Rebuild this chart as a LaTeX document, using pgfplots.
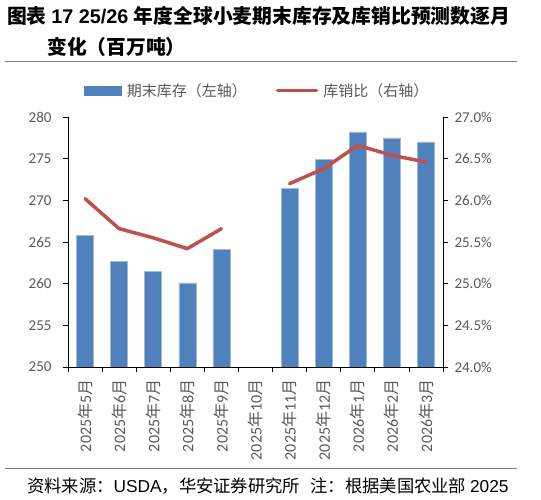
\documentclass[border=0pt]{standalone}
\usepackage{fontspec}
\setmainfont{Carlito}
\newfontfamily\cjk{Noto Sans CJK SC}
\newfontfamily\arial{Liberation Sans}
\usepackage{pgfplots}
\pgfplotsset{compat=1.18}

\definecolor{barblue}{HTML}{4F81BD}
\definecolor{linered}{HTML}{C0504D}
\definecolor{labelgray}{HTML}{595959}
\definecolor{rulegray}{HTML}{808080}

\newcommand{\ym}[2]{#1{\cjk 年}#2{\cjk 月}}

\begin{document}
\begin{tikzpicture}
\path[use as bounding box] (0pt,0pt) rectangle (541pt,500pt);

% title and rules
\node[anchor=west, inner sep=0pt] at (7pt,484pt)
  {\fontsize{19.8}{20}\selectfont{\cjk\bfseries 图表 }{\arial\bfseries 17 25/26 }{\cjk\bfseries 年度全球小麦期末库存及库销比预测数逐月}};
\node[anchor=west, inner sep=0pt] at (47pt,453pt)
  {\fontsize{19.8}{20}\selectfont\cjk\bfseries 变化（百万吨）};
\draw[rulegray, line width=1pt] (5pt,438pt) -- (517pt,438pt);
\draw[rulegray, line width=1pt] (5pt,31pt) -- (517pt,31pt);
\node[anchor=west, inner sep=0pt] at (27pt,14pt)
  {\fontsize{17.3}{17.3}\selectfont{\cjk 资料来源：}{\arial USDA}{\cjk ，华安证券研究所\hspace{0.6em}注：根据美国农业部 }{\arial 2025}};

\begin{axis}[
    at={(68pt,133pt)}, anchor=south west,
    width=375pt, height=250pt, scale only axis,
    xmin=-0.5, xmax=10.5,
    ymin=250, ymax=280,
    axis y line*=left, axis x line*=bottom,
    axis line style={black, line width=0.8pt, -},
    tick style={black, line width=0.8pt},
    tick align=outside,
    major tick length=5pt,
    ytick={250,255,...,280},
    xtick={-0.5,0.5,1.5,2.5,3.5,4.5,5.5,6.5,7.5,8.5,9.5,10.5},
    xticklabels={},
    extra x ticks={0,1,2,3,4,5,6,7,8,9,10},
    extra x tick labels={\ym{2025}{5},\ym{2025}{6},\ym{2025}{7},\ym{2025}{8},\ym{2025}{9},\ym{2025}{10},\ym{2025}{11},\ym{2025}{12},\ym{2026}{1},\ym{2026}{2},\ym{2026}{3}},
    extra x tick style={major tick length=0pt,
        tick label style={yshift=-9pt, rotate=90, anchor=east, font=\fontsize{16}{16}\selectfont, text=labelgray}},
    y tick label style={xshift=-8pt, font=\fontsize{15}{15}\selectfont, text=labelgray},
    /pgf/number format/assume math mode=true,
    ybar, bar width=17pt,
]
\addplot[fill=barblue, draw=barblue!55!white, line width=0.6pt] coordinates {
    (0,265.8) (1,262.7) (2,261.5) (3,260.1) (4,264.1)
    (6,271.4) (7,274.9) (8,278.2) (9,277.5) (10,277.0)
};
\end{axis}

\begin{axis}[
    at={(68pt,133pt)}, anchor=south west,
    width=375pt, height=250pt, scale only axis,
    xmin=-0.5, xmax=10.5,
    ymin=24, ymax=27,
    axis y line*=right, axis x line=none,
    axis line style={black, line width=0.8pt, -},
    tick style={black, line width=0.8pt},
    tick align=outside,
    major tick length=5pt,
    ytick={24,24.5,...,27},
    yticklabel={\pgfmathprintnumber[fixed,fixed zerofill,precision=1]{\tick}\%},
    y tick label style={xshift=3pt, font=\fontsize{15}{15}\selectfont, text=labelgray},
    /pgf/number format/assume math mode=true,
    legend columns=2,
    legend style={draw=none, fill=none, at={(0.505,1.105)}, anchor=center,
        font=\cjk\fontsize{15}{15}\selectfont, text=labelgray,
        /tikz/every even column/.append style={column sep=27pt}},
]
\addlegendimage{legend image code/.code={\fill[barblue] (0pt,-4.5pt) rectangle (37pt,4.5pt); \path (40pt,0pt);}}
\addlegendentry{期末库存（左轴）}
\addplot[linered, line width=3.5pt, line cap=round, line join=round, unbounded coords=jump,
    legend image code/.code={\draw[linered, line width=3.5pt, line cap=round] (0pt,0pt) -- (39pt,0pt); \path (42pt,0pt);}]
    coordinates {
    (0,26.02) (1,25.66) (2,25.55) (3,25.42) (4,25.66) (5,nan)
    (6,26.20) (7,26.38) (8,26.66) (9,26.54) (10,26.46)
};
\addlegendentry{库销比（右轴）}
\end{axis}
\end{tikzpicture}
\end{document}
